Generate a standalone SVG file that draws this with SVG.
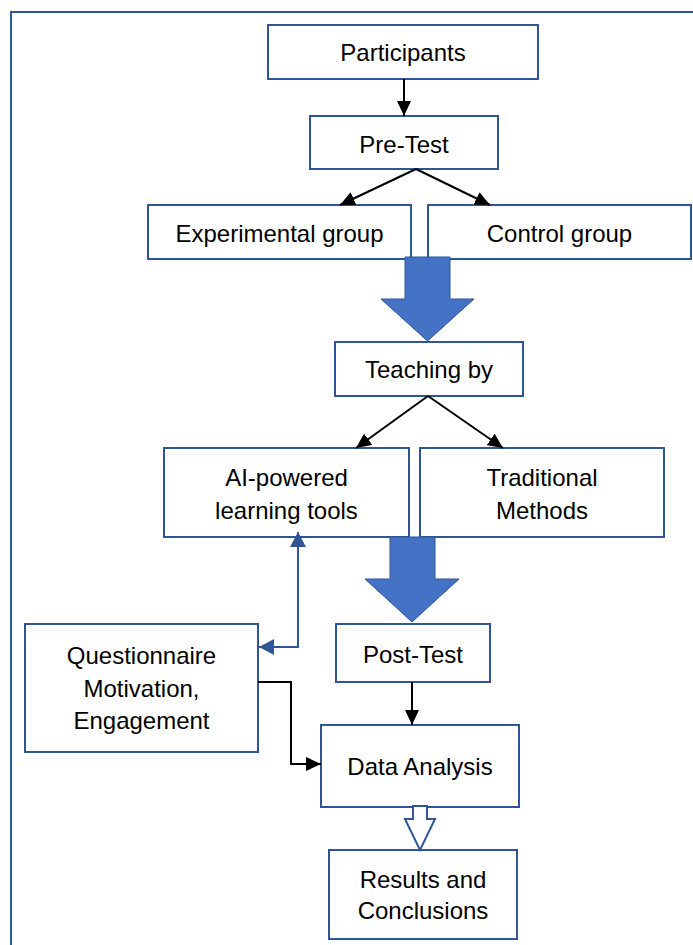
<svg xmlns="http://www.w3.org/2000/svg" width="693" height="945" viewBox="0 0 693 945">
  <style>
    .box { fill: #ffffff; stroke: #2F5597; stroke-width: 2; }
    .lbl { font-family: "Liberation Sans", Arial, sans-serif; font-size: 24px; fill: #000000; text-anchor: middle; }
    .blk { fill: none; stroke: #000000; stroke-width: 2; }
    .blu { fill: none; stroke: #2F5597; stroke-width: 2; }
    .big { fill: #4472C4; stroke: #2F5597; stroke-width: 1; }
    .hollow { fill: #ffffff; stroke: #2F5597; stroke-width: 2; }
  </style>
  <defs>
    <marker id="ah" markerUnits="userSpaceOnUse" markerWidth="16" markerHeight="14" refX="15" refY="7" orient="auto">
      <path d="M0,0 L15,7 L0,14 Z" fill="#000000"/>
    </marker>
    <marker id="ahb" markerUnits="userSpaceOnUse" markerWidth="16" markerHeight="16" refX="15" refY="8" orient="auto-start-reverse">
      <path d="M0,0 L15,8 L0,16 Z" fill="#2F5597"/>
    </marker>
  </defs>
  <rect width="693" height="945" fill="#ffffff"/>
  <rect x="11" y="12" width="700" height="950" fill="none" stroke="#2F5597" stroke-width="2"/>

  <g id="participants">
    <rect class="box" x="268" y="25" width="270" height="54"/>
    <text class="lbl" x="403" y="61">Participants</text>
  </g>
  <g id="pretest">
    <rect class="box" x="310" y="116" width="188" height="53"/>
    <text class="lbl" x="404" y="153">Pre-Test</text>
  </g>
  <g id="experimental">
    <rect class="box" x="148" y="205" width="263" height="54"/>
    <text class="lbl" x="279.5" y="242">Experimental group</text>
  </g>
  <g id="control">
    <rect class="box" x="428" y="205" width="263" height="54"/>
    <text class="lbl" x="559.5" y="242">Control group</text>
  </g>
  <g id="teaching">
    <rect class="box" x="335" y="342" width="188" height="54"/>
    <text class="lbl" x="429" y="378">Teaching by</text>
  </g>
  <g id="ai">
    <rect class="box" x="164" y="448" width="245" height="89"/>
    <text class="lbl" x="286.5" y="486">AI-powered</text>
    <text class="lbl" x="286.5" y="519">learning tools</text>
  </g>
  <g id="traditional">
    <rect class="box" x="420" y="448" width="244" height="89"/>
    <text class="lbl" x="542" y="486">Traditional</text>
    <text class="lbl" x="542" y="519">Methods</text>
  </g>
  <g id="questionnaire">
    <rect class="box" x="25" y="624" width="233" height="128"/>
    <text class="lbl" x="141.5" y="664">Questionnaire</text>
    <text class="lbl" x="141.5" y="697">Motivation,</text>
    <text class="lbl" x="141.5" y="729">Engagement</text>
  </g>
  <g id="posttest">
    <rect class="box" x="336" y="624" width="154" height="58"/>
    <text class="lbl" x="413" y="663">Post-Test</text>
  </g>
  <g id="dataanalysis">
    <rect class="box" x="321" y="725" width="198" height="82"/>
    <text class="lbl" x="420" y="775">Data Analysis</text>
  </g>
  <g id="results">
    <rect class="box" x="329" y="850" width="188" height="89"/>
    <text class="lbl" x="423" y="888">Results and</text>
    <text class="lbl" x="423" y="919">Conclusions</text>
  </g>

  <g id="connectors">
    <line class="blk" x1="404" y1="79" x2="404" y2="116" marker-end="url(#ah)"/>
    <line class="blk" x1="416" y1="169" x2="340" y2="205" marker-end="url(#ah)"/>
    <line class="blk" x1="416" y1="169" x2="490" y2="205" marker-end="url(#ah)"/>
    <polygon class="big" points="405,257 450,257 450,299 474,299 427.5,341 381,299 405,299"/>
    <line class="blk" x1="428" y1="396" x2="356" y2="448" marker-end="url(#ah)"/>
    <line class="blk" x1="428" y1="396" x2="503" y2="448" marker-end="url(#ah)"/>
    <polygon class="big" points="390,537 435,537 435,579 459,579 412,622 365,579 390,579"/>
    <polyline class="blu" points="259,647 298,647 298,532" marker-start="url(#ahb)" marker-end="url(#ahb)"/>
    <line class="blk" x1="412" y1="682" x2="412" y2="725" marker-end="url(#ah)"/>
    <polyline class="blk" points="258,682 291,682 291,764 321,764" marker-end="url(#ah)"/>
    <polygon class="hollow" points="413,806 427,806 427,819 435,819 420,850 405,819 413,819"/>
  </g>
</svg>
